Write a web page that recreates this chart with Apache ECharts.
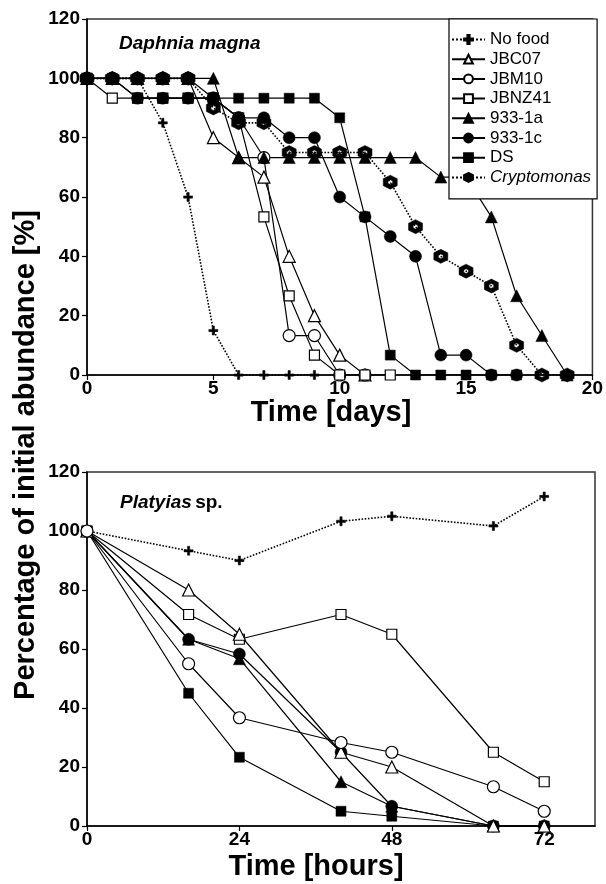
<!DOCTYPE html>
<html><head><meta charset="utf-8">
<script src="https://cdn.jsdelivr.net/npm/echarts@6/dist/echarts.min.js"></script>
<style>html,body{margin:0;padding:0;background:#fff}#c{width:606px;height:884px}</style>
</head><body><div id="c"></div>
<script>
// ---- Data ----
const seriesNames = ['No food','JBC07','JBM10','JBNZ41','933-1a','933-1c','DS','Cryptomonas'];
const dayTicks = [0,5,10,15,20];
const hourTicks = [0,24,48,72];

// Daphnia magna (x = days)
const daysNoFood = [0,1,2,3,4,5,6,7,8,9];
const noFoodD    = [100,100,100,85,60,15,0,0,0,0];
const daysJBC07  = [0,1,2,3,4,5,6,7,8,9,10,11];
const jbc07D     = [100,100,100,100,100,80,73.3,66.7,40,20,6.7,0];
const daysJBM10  = [0,1,2,3,4,5,6,7,8,9,10,11];
const jbm10D     = [100,100,100,100,100,93.3,86.7,73.3,13.3,13.3,0,0];
const daysJBNZ41 = [0,1,2,3,4,5,6,7,8,9,10,11,12];
const jbnz41D    = [100,93.3,93.3,93.3,93.3,93.3,86.7,53.3,26.7,6.7,0,0,0];
const days933a   = [0,1,2,3,4,5,6,7,8,9,10,11,12,13,14,15,16,17,18,19];
const a933D      = [100,100,100,100,100,100,73.3,73.3,73.3,73.3,73.3,73.3,73.3,73.3,66.7,66.7,53.3,26.7,13.3,0];
const days933c   = [0,1,2,3,4,5,6,7,8,9,10,11,12,13,14,15,16,17];
const c933D      = [100,100,93.3,93.3,93.3,93.3,86.7,86.7,80,80,60,53.3,46.7,40,6.7,6.7,0,0];
const daysDS     = [0,1,2,3,4,5,6,7,8,9,10,11,12,13,14,15,16,17];
const dsD        = [100,100,93.3,93.3,93.3,93.3,93.3,93.3,93.3,93.3,86.7,53.3,6.7,0,0,0,0,0];
const daysCrypto = [0,1,2,3,4,5,6,7,8,9,10,11,12,13,14,15,16,17,18,19];
const cryptoD    = [100,100,100,100,100,90,85,85,75,75,75,75,65,50,40,35,30,10,0,0];

// Platyias sp. (x = hours)
const hours    = [0,16,24,40,48,64,72];
const noFoodP  = [100,93.3,90,103.3,105,101.7,111.7];
const jbc07P   = [100,80,65,25,20,0,0];
const jbm10P   = [100,55,36.7,28.3,25,13.3,5];
const jbnz41P  = [100,71.7,63.3,71.7,65,25,15];
const a933P    = [100,63.3,56.7,15,6.7,0,0];
const c933P    = [100,63.3,58.3,25,6.7,0,0];
const dsP      = [100,45,23.3,5,3.3,0,0];

// ---- Styles ----
const HEX = 'path://M10 0 L18.66 5 L18.66 15 L10 20 L1.34 15 L1.34 5 Z M10 6.6 L7.05 8.3 L7.05 11.7 L10 13.4 L12.95 11.7 L12.95 8.3 Z';
const PLUS = 'path://M3 0 H5 V3 H8 V5 H5 V8 H3 V5 H0 V3 H3 Z';
const sty = {
  'No food':    {symbol: PLUS, size: 9, fill: '#000', dash: 'dotted'},
  'JBC07':      {symbol: 'triangle', size: 12, fill: '#fff', dash: 'solid'},
  'JBM10':      {symbol: 'circle', size: 12, fill: '#fff', dash: 'solid'},
  'JBNZ41':     {symbol: 'rect', size: 10, fill: '#fff', dash: 'solid'},
  '933-1a':     {symbol: 'triangle', size: 12, fill: '#000', dash: 'solid'},
  '933-1c':     {symbol: 'circle', size: 12, fill: '#000', dash: 'solid'},
  'DS':         {symbol: 'rect', size: 10, fill: '#000', dash: 'solid'},
  'Cryptomonas':{symbol: HEX, size: 14, fill: '#000', dash: 'dotted'}
};
function pairs(xs, ys){ return xs.map((x,i)=>[x, ys[i]]); }
function mk(name, xs, ys, axis){
  const s = sty[name];
  return {
    name, type: 'line', xAxisIndex: axis, yAxisIndex: axis,
    data: pairs(xs, ys), symbol: s.symbol, symbolSize: s.size,
    showAllSymbol: true, animation: false,
    lineStyle: {color: '#000', width: s.dash === 'dotted' ? 1.6 : 1.2, type: s.dash},
    itemStyle: {color: s.fill, borderColor: '#000', borderWidth: s.fill === '#fff' ? 1.2 : 0.5},
    emphasis: {disabled: true}
  };
}
const topSeries = [
  mk('No food', daysNoFood, noFoodD, 0),
  mk('JBC07', daysJBC07, jbc07D, 0),
  mk('JBM10', daysJBM10, jbm10D, 0),
  mk('JBNZ41', daysJBNZ41, jbnz41D, 0),
  mk('DS', daysDS, dsD, 0),
  mk('933-1a', days933a, a933D, 0),
  mk('933-1c', days933c, c933D, 0),
  mk('Cryptomonas', daysCrypto, cryptoD, 0)
];
const botSeries = [
  mk('No food', hours, noFoodP, 1),
  mk('JBNZ41', hours, jbnz41P, 1),
  mk('933-1a', hours, a933P, 1),
  mk('933-1c', hours, c933P, 1),
  mk('DS', hours, dsP, 1),
  mk('JBC07', hours, jbc07P, 1),
  mk('JBM10', hours, jbm10P, 1)
];

const labelFont = {fontFamily: 'Liberation Sans, Arial, sans-serif', fontWeight: 'bold', fontSize: 19, color: '#000'};
function xAx(gi, max, ticks){
  return {type: 'value', gridIndex: gi, min: 0, max: max,
    axisLine: {show: true, onZero: false, lineStyle: {color: '#000', width: 1.5}},
    axisTick: {show: true, inside: false, length: 5, customValues: ticks, lineStyle: {color: '#000', width: 1.2}},
    axisLabel: Object.assign({customValues: ticks, margin: 4}, labelFont),
    splitLine: {show: false}};
}
function yAx(gi){
  return {type: 'value', gridIndex: gi, min: 0, max: 120, interval: 20,
    axisLine: {show: true, lineStyle: {color: '#000', width: 1.5}},
    axisTick: {show: true, inside: false, length: 5, lineStyle: {color: '#000', width: 1.2}},
    axisLabel: Object.assign({margin: 7}, labelFont),
    splitLine: {show: false}};
}

const chart = echarts.init(document.getElementById('c'), null, {renderer: 'canvas'});
chart.setOption({
  animation: false,
  backgroundColor: '#fff',
  grid: [
    {left: 87, top: 19, width: 509, height: 356, show: true, borderColor: '#333', borderWidth: 1.5, backgroundColor: 'transparent'},
    {left: 87, top: 472, width: 508, height: 354, show: true, borderColor: '#333', borderWidth: 1.5, backgroundColor: 'transparent'}
  ],
  xAxis: [xAx(0, 20, dayTicks), xAx(1, 80, hourTicks)],
  yAxis: [yAx(0), yAx(1)],
  legend: {
    data: seriesNames, orient: 'vertical', left: 449, top: 19,
    padding: [12, 6, 13, 2], itemGap: 2.7, itemWidth: 33, itemHeight: 11,
    borderColor: '#000', borderWidth: 1.2, backgroundColor: '#fff',
    textStyle: {fontFamily: 'Liberation Sans, Arial, sans-serif', fontSize: 17, color: '#000',
      rich: {i: {fontStyle: 'italic', fontFamily: 'Liberation Sans, Arial, sans-serif', fontSize: 17, color: '#000'}}},
    formatter: function(n){ return n === 'Cryptomonas' ? '{i|Cryptomonas}' : n; },
    selectedMode: false
  },
  graphic: [
    {type: 'text', left: 119, top: 34, style: {text: 'Daphnia magna', font: 'italic bold 19px "Liberation Sans", Arial, sans-serif', fill: '#000'}},
    {type: 'text', left: 120, top: 493, style: {text: '{i|Platyias} {n|sp.}', rich: {
      i: {font: 'italic bold 19px "Liberation Sans", Arial, sans-serif', fill: '#000'},
      n: {font: 'bold 19px "Liberation Sans", Arial, sans-serif', fill: '#000'}}}},
    {type: 'text', x: 331, y: 413, style: {text: 'Time [days]', font: 'bold 29px "Liberation Sans", Arial, sans-serif', fill: '#000', textAlign: 'center', textVerticalAlign: 'middle'}},
    {type: 'text', x: 316, y: 867, style: {text: 'Time [hours]', font: 'bold 29px "Liberation Sans", Arial, sans-serif', fill: '#000', textAlign: 'center', textVerticalAlign: 'middle'}},
    {type: 'text', x: 26, y: 455, rotation: Math.PI/2, style: {text: 'Percentage of initial abundance [%]', font: 'bold 29px "Liberation Sans", Arial, sans-serif', fill: '#000', textAlign: 'center', textVerticalAlign: 'middle'}}
  ],
  series: topSeries.concat(botSeries)
});
</script></body></html>
